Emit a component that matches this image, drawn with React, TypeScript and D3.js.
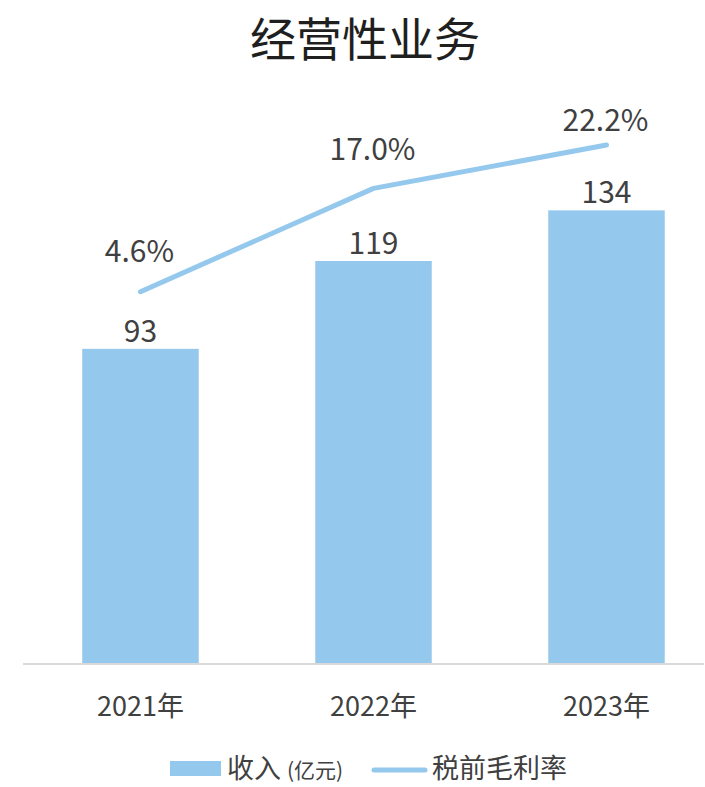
import { useEffect, useRef } from "react";
import * as d3 from "d3";

const years = ["2021年", "2022年", "2023年"];
const revenue = [93, 119, 134]; // 收入（亿元）
const margin = [4.6, 17.0, 22.2]; // 税前毛利率 %
const marginLabels = ["4.6%", "17.0%", "22.2%"];

const BLUE = "#95c8ed";
const TEXT = "#404040";
const FONT = "'Noto Sans CJK SC', 'Noto Sans', sans-serif";

export default function App() {
  const svgRef = useRef<SVGSVGElement | null>(null);

  useEffect(() => {
    const svg = d3.select(svgRef.current);
    svg.selectAll("*").remove();

    const baseY = 663;

    const x = d3.scaleBand().domain(years).range([24, 723]).paddingInner(0.5).paddingOuter(0.25);
    const y = d3.scaleLinear().domain([0, 160]).range([baseY, baseY - 160 * 3.378]);
    const y2 = d3.scaleLinear().domain([0, 25]).range([330, 330 - 25 * 8.33]);

    // title
    svg
      .append("text")
      .attr("x", 365)
      .attr("y", 56)
      .attr("text-anchor", "middle")
      .style("font-size", "46px")
      .style("fill", "#1f1f1f")
      .text("经营性业务");

    // bars
    svg
      .selectAll(".bar")
      .data(revenue)
      .enter()
      .append("rect")
      .attr("class", "bar")
      .attr("x", (d, i) => x(years[i])!)
      .attr("y", (d) => y(d))
      .attr("width", x.bandwidth())
      .attr("height", (d) => baseY - y(d))
      .style("fill", BLUE);

    // x axis line
    svg
      .append("line")
      .attr("x1", 23)
      .attr("x2", 704)
      .attr("y1", baseY + 1)
      .attr("y2", baseY + 1)
      .attr("stroke", "#d9d9d9")
      .attr("stroke-width", 2);

    // bar labels
    svg
      .selectAll(".bar-label")
      .data(revenue)
      .enter()
      .append("text")
      .attr("class", "bar-label")
      .attr("x", (d, i) => x(years[i])! + x.bandwidth() / 2)
      .attr("y", (d) => y(d) - 7)
      .attr("text-anchor", "middle")
      .style("font-size", "30px")
      .style("fill", TEXT)
      .text((d) => d);

    // category labels
    svg
      .selectAll(".cat")
      .data(years)
      .enter()
      .append("text")
      .attr("class", "cat")
      .attr("x", (d) => x(d)! + x.bandwidth() / 2)
      .attr("y", 716)
      .attr("text-anchor", "middle")
      .style("font-size", "27px")
      .style("fill", TEXT)
      .text((d) => d);

    // margin line
    const line = d3
      .line<number>()
      .x((d, i) => x(years[i])! + x.bandwidth() / 2)
      .y((d) => y2(d));

    svg
      .append("path")
      .attr("d", line(margin))
      .attr("fill", "none")
      .attr("stroke", BLUE)
      .attr("stroke-width", 5)
      .attr("stroke-linecap", "round")
      .attr("stroke-linejoin", "round");

    const labelDy = [-30, -28, -14];
    svg
      .selectAll(".pct-label")
      .data(margin)
      .enter()
      .append("text")
      .attr("class", "pct-label")
      .attr("x", (d, i) => x(years[i])! + x.bandwidth() / 2 - 1)
      .attr("y", (d, i) => y2(d) + labelDy[i])
      .attr("text-anchor", "middle")
      .style("font-size", "30px")
      .style("fill", TEXT)
      .text((d, i) => marginLabels[i]);

    // legend
    const lg = svg.append("g");
    lg.append("rect").attr("x", 170).attr("y", 761).attr("width", 51).attr("height", 15).style("fill", BLUE);
    const t1 = lg
      .append("text")
      .attr("x", 227)
      .attr("y", 778)
      .style("font-size", "27px")
      .style("fill", TEXT);
    t1.append("tspan").text("收入");
    t1.append("tspan").attr("dx", 6).style("font-size", "21px").text("(亿元)");
    lg.append("line")
      .attr("x1", 374)
      .attr("x2", 425)
      .attr("y1", 770)
      .attr("y2", 770)
      .attr("stroke", BLUE)
      .attr("stroke-width", 5)
      .attr("stroke-linecap", "round");
    lg.append("text")
      .attr("x", 432)
      .attr("y", 778)
      .style("font-size", "27px")
      .style("fill", TEXT)
      .text("税前毛利率");
  }, []);

  return (
    <svg
      ref={svgRef}
      width={705}
      height={787}
      style={{ position: "absolute", left: 0, top: 0, fontFamily: FONT, background: "#fff" }}
    />
  );
}
